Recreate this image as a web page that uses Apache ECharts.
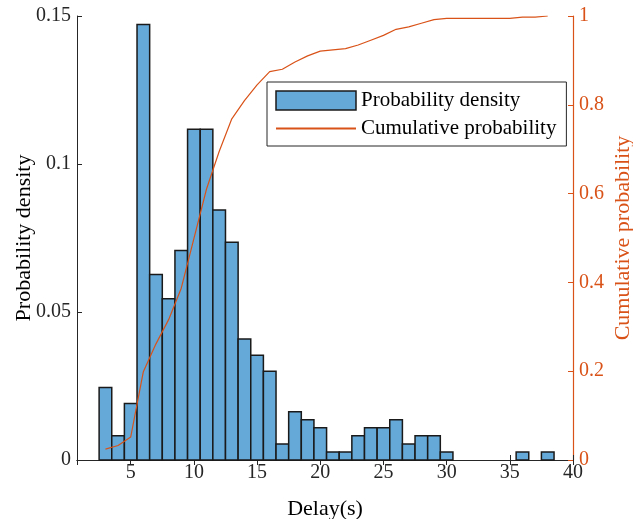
<!DOCTYPE html>
<html>
<head>
<meta charset="utf-8">
<script src="https://cdn.jsdelivr.net/npm/echarts@6/dist/echarts.min.js"></script>
<style>
  html, body { margin: 0; padding: 0; background: #fff; }
  #chart { width: 633px; height: 519px; }
</style>
</head>
<body>
<div id="chart"></div>
<script>
// bin centres (s), bins are 1 s wide
const binCenters = [3, 4, 5, 6, 7, 8, 9, 10, 11, 12, 13, 14, 15, 16, 17, 18, 19, 20,
  21, 22, 23, 24, 25, 26, 27, 28, 29, 30, 31, 32, 33, 34, 35, 36, 37, 38]

// probability density per bin
const density = [0.0245, 0.0082, 0.0191, 0.1471, 0.0627, 0.0545, 0.0708, 0.1117, 0.1117,
  0.0845, 0.0736, 0.0409, 0.0354, 0.0300, 0.0054, 0.0163, 0.0136, 0.0109,
  0.0027, 0.0027, 0.0082, 0.0109, 0.0109, 0.0136, 0.0054, 0.0082, 0.0082, 0.0027,
  0, 0, 0, 0, 0, 0.0027, 0, 0.0027]

// cumulative probability at each bin centre
const cumulative = [0.0245, 0.0327, 0.0518, 0.1989, 0.2616, 0.3161, 0.3869, 0.4986, 0.6104,
  0.6948, 0.7684, 0.8093, 0.8447, 0.8747, 0.8801, 0.8965, 0.9101, 0.9210,
  0.9237, 0.9264, 0.9346, 0.9455, 0.9564, 0.9700, 0.9755, 0.9837, 0.9918, 0.9946,
  0.9946, 0.9946, 0.9946, 0.9946, 0.9946, 0.9973, 0.9973, 1.0]

const leftTicks = [0, 0.05, 0.1, 0.15]
const rightTicks = [0, 0.2, 0.4, 0.6, 0.8, 1]

const FONT = '"Liberation Serif", "Times New Roman", serif'
const AXIS = '#262626'
const ORANGE = '#D95319'
const BLUE = '#64A9D8'

const chart = echarts.init(document.getElementById('chart'))

const option = {
  animation: false,
  textStyle: { fontFamily: FONT },
  grid: { left: 77, right: 60, top: 16, bottom: 59, containLabel: false, outerBoundsMode: 'none' },
  legend: {
    left: 267,
    top: 82,
    orient: 'vertical',
    itemWidth: 80,
    itemHeight: 19,
    itemGap: 7,
    padding: [8, 10, 7, 8],
    borderColor: AXIS,
    borderWidth: 1,
    backgroundColor: '#fff',
    textStyle: { fontFamily: FONT, fontSize: 21, lineHeight: 19, color: '#000' },
    data: [
      { name: 'Probability density', icon: 'rect',
        itemStyle: { color: BLUE, borderColor: '#1a1a1a', borderWidth: 1.5 } },
      // line only: hide the marker ECharts draws on line legend icons
      { name: 'Cumulative probability',
        itemStyle: { color: 'rgba(0,0,0,0)', borderWidth: 0 } }
    ]
  },
  xAxis: [
    {
      type: 'value',
      min: 0.75,
      max: 40,
      splitNumber: 8,
      position: 'bottom',
      name: 'Delay(s)',
      nameLocation: 'middle',
      nameGap: 38,
      nameMoveOverlap: false,
      nameTextStyle: { fontFamily: FONT, fontSize: 22, color: '#000' },
      axisLine: { lineStyle: { color: AXIS, width: 1 } },
      axisTick: { inside: true, length: 5, lineStyle: { color: AXIS } },
      axisLabel: { showMinLabel: false, margin: 3, fontFamily: FONT, fontSize: 20, color: AXIS },
      splitLine: { show: false }
    },
    {
      type: 'value',
      min: 0.75,
      max: 40,
      splitNumber: 8,
      position: 'top',
      axisLine: { lineStyle: { color: AXIS, width: 1 } },
      axisTick: { inside: true, length: 5, lineStyle: { color: AXIS } },
      axisLabel: { show: false },
      splitLine: { show: false }
    }
  ],
  yAxis: [
    {
      type: 'value',
      min: leftTicks[0],
      max: leftTicks[leftTicks.length - 1],
      interval: 0.05,
      position: 'left',
      name: 'Probability density',
      nameLocation: 'middle',
      nameRotate: 90,
      nameGap: 42,
      nameMoveOverlap: false,
      nameTextStyle: { fontFamily: FONT, fontSize: 22, color: '#000' },
      axisLine: { show: true, lineStyle: { color: AXIS, width: 1 } },
      axisTick: { show: true, inside: true, length: 5, lineStyle: { color: AXIS } },
      axisLabel: { margin: 6, fontFamily: FONT, fontSize: 20, color: AXIS },
      splitLine: { show: false }
    },
    {
      type: 'value',
      min: rightTicks[0],
      max: rightTicks[rightTicks.length - 1],
      interval: 0.2,
      position: 'right',
      name: 'Cumulative probability',
      nameLocation: 'middle',
      nameRotate: 90,
      nameGap: 39,
      nameMoveOverlap: false,
      nameTextStyle: { fontFamily: FONT, fontSize: 22, color: ORANGE },
      axisLine: { show: true, lineStyle: { color: ORANGE, width: 1.2 } },
      axisTick: { show: true, inside: true, length: 5, lineStyle: { color: ORANGE } },
      axisLabel: { margin: 6, fontFamily: FONT, fontSize: 20, color: ORANGE },
      splitLine: { show: false }
    }
  ],
  series: [
    {
      name: 'Probability density',
      type: 'custom',
      xAxisIndex: 0,
      yAxisIndex: 0,
      itemStyle: { color: BLUE },
      data: binCenters.map((c, i) => [c, density[i]]),
      renderItem: (params, api) => {
        const x = api.value(0)
        const y = api.value(1)
        if (!y) return null
        const p0 = api.coord([x - 0.5, y])
        const p1 = api.coord([x + 0.5, 0])
        return {
          type: 'rect',
          shape: { x: p0[0], y: p0[1], width: p1[0] - p0[0], height: p1[1] - p0[1] },
          style: { fill: BLUE, stroke: '#1a1a1a', lineWidth: 1.5 }
        }
      },
      z: 2
    },
    {
      name: 'Cumulative probability',
      type: 'line',
      xAxisIndex: 0,
      yAxisIndex: 1,
      symbol: 'none',
      lineStyle: { color: ORANGE, width: 1.2 },
      itemStyle: { color: ORANGE },
      data: binCenters.map((c, i) => [c, cumulative[i]]),
      z: 3
    }
  ]
}

chart.setOption(option)
</script>
</body>
</html>
